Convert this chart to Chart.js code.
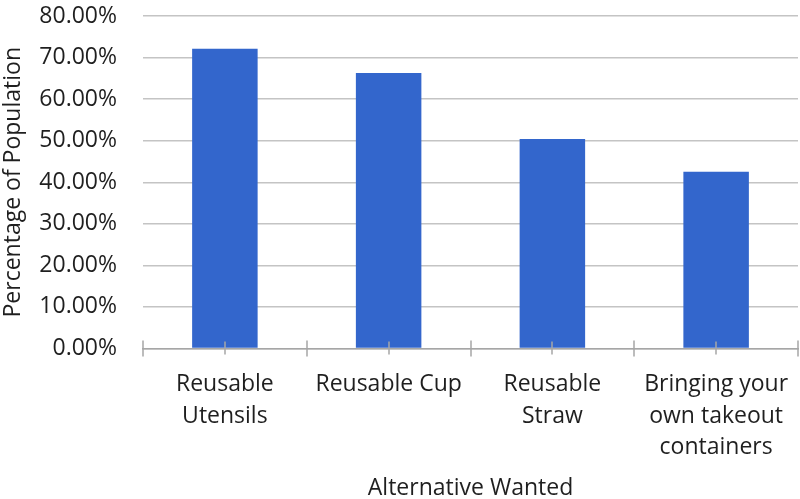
<!DOCTYPE html>
<html>
<head>
<meta charset="utf-8">
<title>Alternative Wanted</title>
<script src="https://cdn.jsdelivr.net/npm/chart.js@4"></script>
<style>
  html, body { margin: 0; padding: 0; background: #fff; }
  #wrap { width: 800px; height: 499px; }
</style>
</head>
<body>
<div id="wrap"><canvas id="altChart"></canvas></div>
<script>
// Data --------------------------------------------
const categories = [
  ['Reusable', 'Utensils'],
  'Reusable Cup',
  ['Reusable', 'Straw'],
  ['Bringing your', 'own takeout', 'containers']
];
const percentWanted = [72.1, 66.3, 50.4, 42.5];
const yTicks = [0, 10, 20, 30, 40, 50, 60, 70, 80];

const textColor = '#1f1f1f';
const axisGray = '#a6a6a6';

// tick marks across the category axis, both at boundaries and under each bar
const crossTicks = {
  id: 'crossTicks',
  afterDatasetsDraw(chart) {
    const x = chart.scales.x;
    const y0 = chart.scales.y.getPixelForValue(0);
    const ctx = chart.ctx;
    ctx.save();
    ctx.strokeStyle = axisGray;
    ctx.lineWidth = 1.5;
    ctx.beginPath();
    for (let i = 0; i <= categories.length; i++) {
      const px = Math.round(x.getPixelForValue(i - 0.5));
      ctx.moveTo(px, y0 - 8);
      ctx.lineTo(px, y0 + 8);
    }
    for (let i = 0; i < categories.length; i++) {
      const px = Math.round(x.getPixelForValue(i));
      ctx.moveTo(px, y0 - 7);
      ctx.lineTo(px, y0 + 6);
    }
    ctx.stroke();
    ctx.restore();
  }
};

Chart.defaults.font.family = '"Open Sans", sans-serif';
Chart.defaults.font.size = 23;
Chart.defaults.color = textColor;

let ctx = document.getElementById('altChart').getContext('2d');
let chart = new Chart(ctx, {
  type: 'bar',
  data: {
    labels: categories,
    datasets: [{
      label: 'Percentage of Population',
      data: percentWanted,
      backgroundColor: '#3366cc',
      borderWidth: 0,
      categoryPercentage: 1,
      barPercentage: 0.4
    }]
  },
  options: {
    responsive: true,
    maintainAspectRatio: false,
    animation: false,
    layout: {
      padding: { top: 16, right: 2, bottom: 0, left: 0 }
    },
    plugins: {
      legend: { display: false },
      tooltip: { enabled: false }
    },
    scales: {
      x: {
        // invisible tick marks keep the label gap; visible ones come from crossTicks
        grid: { display: true, drawOnChartArea: false, tickLength: 20, tickColor: 'transparent' },
        border: { display: true, color: axisGray, width: 1.5 },
        ticks: {
          color: textColor,
          padding: 0,
          maxRotation: 0,
          autoSkip: false,
          font: { size: 23, lineHeight: 1.38 }
        },
        title: {
          display: true,
          text: 'Alternative Wanted',
          color: textColor,
          font: { size: 23 },
          padding: { top: 0, bottom: -3 }
        },
        afterFit(scale) { scale.height = 150.5; }
      },
      y: {
        min: 0,
        max: 80,
        afterBuildTicks(scale) {
          scale.ticks = yTicks.map(v => ({ value: v }));
        },
        grid: { color: '#c4c4c4', lineWidth: 1.5, tickLength: 26, tickColor: 'transparent' },
        border: { display: false },
        ticks: {
          color: textColor,
          padding: 0,
          font: { size: 23 },
          callback: v => v.toFixed(2) + '%'
        },
        title: {
          display: true,
          text: 'Percentage of Population',
          color: textColor,
          font: { size: 23 },
          padding: { top: 0, bottom: 0 }
        },
        afterFit(scale) { scale.width = 143; }
      }
    }
  },
  plugins: [crossTicks]
});
</script>
</body>
</html>
